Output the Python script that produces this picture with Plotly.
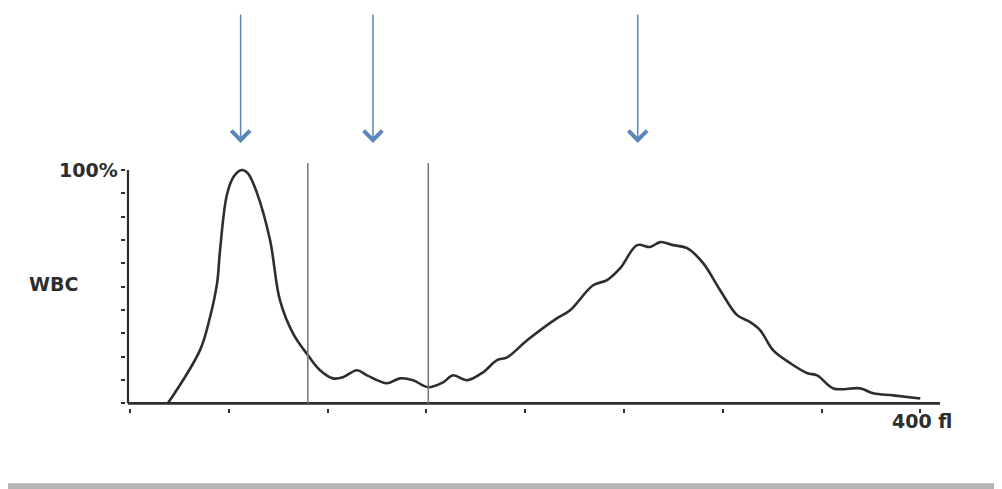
import plotly.graph_objects as go

# WBC histogram (volume in fl vs relative count %)
volume_fl = [19.2, 35.4, 40.5, 44.1, 45.6, 49.1, 52.7, 56.6, 59.7, 64.3, 70.9, 75.9, 82.5, 90.1,
             96.2, 102.8, 107.8, 114.9, 120.0, 130.1, 136.7, 143.3, 150.9, 158.5,
             163.5, 170.6, 178.7, 185.8, 190.9, 201.0, 216.2, 222.8, 234.4, 241.5,
             248.1, 256.7, 263.3, 268.4, 274.9, 282.0, 290.1, 298.7, 307.3, 313.9,
             319.0, 325.6, 334.2, 342.8, 347.8, 356.0, 369.6, 376.2, 386.3, 400.0]
count_pct = [0.0, 22.7, 36.9, 51.5, 65.7, 89.5, 97.4, 100.0, 98.6, 90.1, 70.0, 44.2, 30.0, 20.6,
             14.2, 10.7, 11.2, 14.2, 12.0, 8.6, 10.7, 9.9, 6.9, 9.0,
             12.0, 9.9, 13.3, 18.5, 19.7, 27.0, 36.5, 39.9, 50.6, 52.8,
             57.9, 67.8, 67.0, 69.1, 67.8, 66.5, 60.1, 48.5, 37.8, 34.8,
             31.3, 22.7, 17.2, 12.9, 12.0, 6.4, 6.4, 4.3, 3.4, 2.1]

discriminators_fl = [90, 151]
arrow_positions_fl = [56, 123, 257]
x_tickvals = [0, 50, 100, 150, 200, 250, 300, 350, 400]
y_tickvals = [0, 10, 20, 30, 40, 50, 60, 70, 80, 90, 100]

ink = "#2e2e2e"
font_txt = "DejaVu Sans"

fig = go.Figure()
fig.add_trace(go.Scatter(
    x=volume_fl, y=count_pct, mode="lines",
    line=dict(color=ink, width=2.6, shape="spline", smoothing=1.0),
    hoverinfo="skip", showlegend=False,
))

shapes = []
# axes
shapes.append(dict(type="line", xref="x", yref="y", x0=-1, x1=410, y0=0, y1=0,
                   line=dict(color=ink, width=2.6)))
shapes.append(dict(type="line", xref="x", yref="y", x0=-1, x1=-1, y0=0, y1=100,
                   line=dict(color=ink, width=2.2)))
# discriminator lines
for d in discriminators_fl:
    shapes.append(dict(type="line", xref="x", yref="y", x0=d, x1=d, y0=0, y1=103,
                       line=dict(color="#7a7a7a", width=1.6)))
# bottom grey band
shapes.append(dict(type="rect", xref="paper", yref="paper", x0=-0.3, x1=1.3,
                   y0=-0.36, y1=-0.307, fillcolor="#b4b4b4", line=dict(width=0),
                   layer="above"))

annotations = []
for a in arrow_positions_fl:
    annotations.append(dict(
        x=a, y=1.082, xref="x", yref="paper", text="", showarrow=True,
        ax=0, ay=-130, axref="pixel", ayref="pixel",
        arrowhead=4, arrowsize=2.4, arrowwidth=1.5, arrowcolor="#5b86b8",
    ))
annotations.append(dict(x=0, y=100, xref="paper", yref="y", text="<b>100%</b>",
                        showarrow=False, xanchor="right", yanchor="middle",
                        xshift=-6, font=dict(family=font_txt, size=19, color=ink)))
annotations.append(dict(x=0, y=51, xref="paper", yref="y", text="<b>WBC</b>",
                        showarrow=False, xanchor="right", yanchor="middle",
                        xshift=-46, font=dict(family=font_txt, size=19, color=ink)))
annotations.append(dict(x=400, y=0, xref="x", yref="y", text="<b>400 fl</b>",
                        showarrow=False, xanchor="left", yanchor="top",
                        xshift=-30, yshift=-5, font=dict(family=font_txt, size=19, color=ink)))

fig.update_layout(
    width=994, height=481,
    margin=dict(l=118, r=58, t=155, b=81),
    paper_bgcolor="white", plot_bgcolor="white",
    shapes=shapes, annotations=annotations,
    xaxis=dict(range=[-2, 412], showgrid=False, zeroline=False, showline=False,
               tickvals=x_tickvals, ticks="outside", ticklen=4, tickwidth=2,
               tickcolor=ink, showticklabels=False, fixedrange=True),
    yaxis=dict(range=[-2, 103], showgrid=False, zeroline=False, showline=False,
               tickvals=y_tickvals, ticks="outside", ticklen=4, tickwidth=2,
               tickcolor=ink, showticklabels=False, fixedrange=True),
)

fig.write_html("out.html")
